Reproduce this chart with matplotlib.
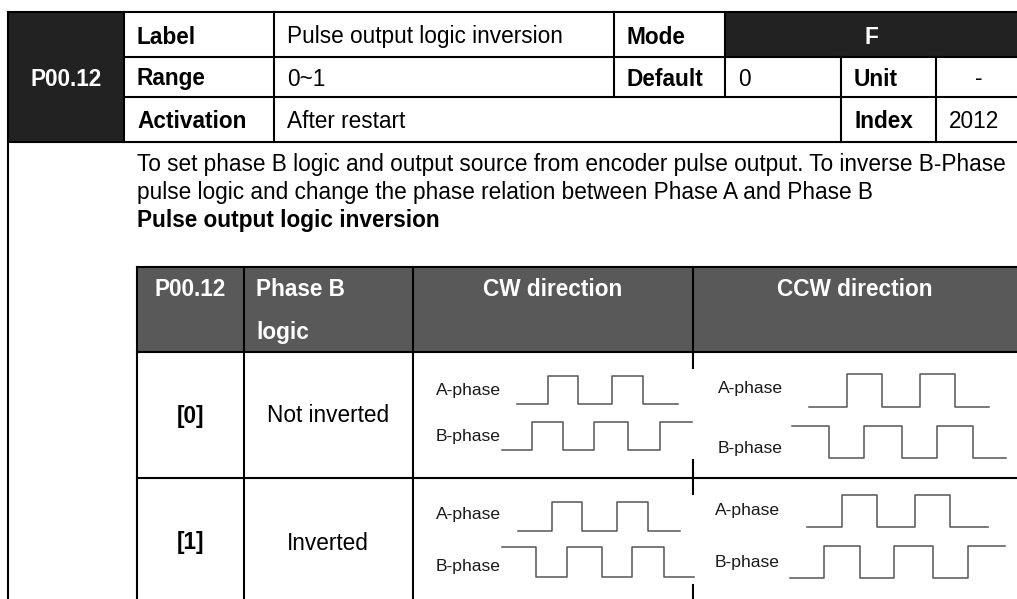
import matplotlib.pyplot as plt

plt.rcParams["font.family"] = ["Liberation Sans", "DejaVu Sans"]

# dados da tabela
param = "P00.12"
cab_labels = ["Label", "Range", "Activation"]
cab_valores = ["Pulse output logic inversion", "0~1", "After restart"]
modo = "F"
padrao = "0"
unidade = "-"
indice = "2012"
descricao = [
    "To set phase B logic and output source from encoder pulse output. To inverse B-Phase",
    "pulse logic and change the phase relation between Phase A and Phase B",
]
titulo_sub = "Pulse output logic inversion"
sub_cabecalho = ["P00.12", "Phase B\nlogic", "CW direction", "CCW direction"]
sub_valores = ["[0]", "[1]"]
sub_logica = ["Not inverted", "Inverted"]

# formas de onda (bordas em x, nivel de cada trecho 0=baixo 1=alto)
cw0_a_bordas = [517, 548, 578, 612, 643, 678]
cw0_a_niveis = [0, 1, 0, 1, 0]
cw0_b_bordas = [502, 532, 563, 594, 628, 660, 692]
cw0_b_niveis = [0, 1, 0, 1, 0, 1]
cw1_a_bordas = [518, 552, 582, 617, 648, 680]
cw1_a_niveis = [0, 1, 0, 1, 0]
cw1_b_bordas = [502, 536, 567, 602, 632, 664, 694]
cw1_b_niveis = [1, 0, 1, 0, 1, 0]
ccw0_a_bordas = [809, 847, 882, 920, 955, 989]
ccw0_a_niveis = [0, 1, 0, 1, 0]
ccw0_b_bordas = [792, 829, 864, 902, 937, 973, 1006]
ccw0_b_niveis = [1, 0, 1, 0, 1, 0]
ccw1_a_bordas = [807, 842, 877, 915, 950, 988]
ccw1_a_niveis = [0, 1, 0, 1, 0]
ccw1_b_bordas = [790, 824, 860, 894, 933, 968, 1005]
ccw1_b_niveis = [0, 1, 0, 1, 0, 1]

W, H = 1017, 599
fig = plt.figure(figsize=(W / 100, H / 100), dpi=100)
ax = fig.add_axes([0, 0, 1, 1])
ax.set_xlim(0, W)
ax.set_ylim(H, 0)
ax.axis("off")

ESCURO = "#222222"
CINZA = "#595959"
LW = 1.5
FS = 16.3
DY = 2  # texto um pouco abaixo do centro


def hline(y, x0, x1):
    ax.plot([x0, x1], [y, y], color="black", lw=LW, solid_capstyle="projecting")


def vline(x, y0, y1):
    ax.plot([x, x], [y0, y1], color="black", lw=LW, solid_capstyle="projecting")


def caixa(x0, y0, x1, y1, cor):
    ax.add_patch(plt.Rectangle((x0, y0), x1 - x0, y1 - y0, color=cor, lw=0))


def texto(x, y, s, **kw):
    kw.setdefault("fontsize", FS)
    kw.setdefault("va", "center")
    ax.text(x, y + DY, s, **kw)


# --- tabela de cima ---
caixa(8, 12, 124, 142, ESCURO)
caixa(725, 12, W, 57, ESCURO)
hline(12, 8, W)
hline(57, 124, W)
hline(97, 124, W)
hline(142, 8, W)
vline(8, 12, H + 5)
vline(124, 12, 142)
vline(274, 12, 142)
vline(614, 12, 97)
vline(725, 12, 97)
vline(841, 57, 142)
vline(936, 57, 142)

texto(66, 77, param, color="white", fontweight="bold", ha="center")
for lab, val, y in zip(cab_labels, cab_valores, [35, 77, 119]):
    texto(137, y, lab, fontweight="bold")
    texto(287, y, val)
texto(627, 35, "Mode", fontweight="bold")
texto(871, 35, modo, color="white", fontweight="bold", ha="center")
texto(627, 77, "Default", fontweight="bold")
texto(738, 77, padrao)
texto(854, 77, "Unit", fontweight="bold")
texto(979, 77, unidade, ha="center")
texto(854, 119, "Index", fontweight="bold")
texto(949, 119, indice)

# --- descricao ---
texto(137, 162, descricao[0])
texto(137, 191, descricao[1])
texto(137, 219, titulo_sub, fontweight="bold")

# --- sub tabela ---
caixa(137, 267, W, 352, CINZA)
hline(267, 137, W)
hline(352, 137, W)
hline(478, 137, W)
vline(137, 267, H + 5)
vline(244, 267, H + 5)
vline(413, 267, H + 5)
vline(693, 267, 368)
vline(693, 460, 494)
vline(693, 585, H + 5)

texto(190, 287, sub_cabecalho[0], color="white", fontweight="bold", ha="center")
texto(256, 287, "Phase B", color="white", fontweight="bold")
texto(256, 330, "logic", color="white", fontweight="bold")
texto(553, 287, sub_cabecalho[2], color="white", fontweight="bold", ha="center")
texto(855, 287, sub_cabecalho[3], color="white", fontweight="bold", ha="center")

for val, logi, y in zip(sub_valores, sub_logica, [414, 541]):
    texto(190, y, val, fontweight="bold", ha="center")
    texto(328, y, logi, ha="center")


def onda(bordas, niveis, y_baixo, y_alto):
    ys = [y_alto if n else y_baixo for n in niveis]
    ys = ys + [ys[-1]]
    ax.plot(bordas, ys, drawstyle="steps-post", color="#555555", lw=1.1)


onda(cw0_a_bordas, cw0_a_niveis, 404, 376)
onda(cw0_b_bordas, cw0_b_niveis, 450, 422)
onda(cw1_a_bordas, cw1_a_niveis, 531, 502)
onda(cw1_b_bordas, cw1_b_niveis, 577, 547)
onda(ccw0_a_bordas, ccw0_a_niveis, 407, 374)
onda(ccw0_b_bordas, ccw0_b_niveis, 458, 426)
onda(ccw1_a_bordas, ccw1_a_niveis, 527, 495)
onda(ccw1_b_bordas, ccw1_b_niveis, 578, 546)

for x, y, t in [
    (436, 389, "A-phase"), (436, 435, "B-phase"),
    (436, 513, "A-phase"), (436, 565, "B-phase"),
    (718, 387, "A-phase"), (718, 446, "B-phase"),
    (715, 509, "A-phase"), (715, 560, "B-phase"),
]:
    texto(x, y, t, fontsize=12.6, color="#1a1a1a")

fig.savefig("out.png", dpi=100)
